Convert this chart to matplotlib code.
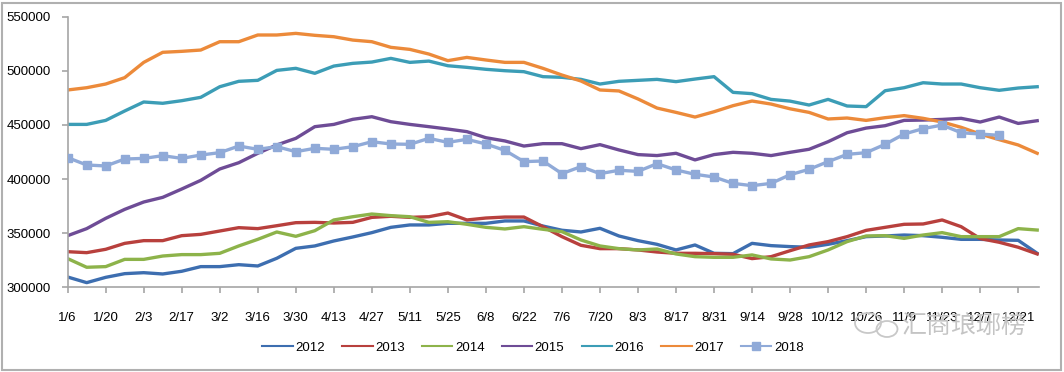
import matplotlib
matplotlib.use('Agg')
import matplotlib.pyplot as plt
from matplotlib.lines import Line2D
from matplotlib.patches import Ellipse, Rectangle

plt.rcParams['font.family'] = ['Liberation Sans', 'DejaVu Sans']

# weekly values, week 0 = 1/6 ... week 51 = 12/28
y2012 = [309500, 304300, 309200, 312600, 313500, 312300, 314800, 319100, 319100, 320900, 319700, 326800, 336000,
         338200, 342800, 346500, 350500, 355400, 357600, 357600, 359100, 359100, 359100, 361300, 361300, 356600,
         352700, 351100, 354500, 347400, 343100, 339700, 334500, 339100, 331400, 331100, 340600, 338500, 337600,
         337000, 339700, 343100, 346800, 347400, 348300, 347700, 346200, 344300, 344300, 343700, 343400, 331400]
y2013 = [332900, 332000, 335100, 340600, 343100, 343100, 347700, 348900, 352000, 355100, 354200, 356900, 359700,
         360000, 359400, 360000, 364600, 365600, 364600, 365200, 368600, 362200, 364000, 364900, 364900, 356000,
         346800, 338800, 335700, 335700, 334500, 332600, 331400, 331400, 331100, 330500, 326500, 328300, 333800,
         339100, 342200, 346800, 352600, 355400, 358200, 358500, 362200, 356000, 345000, 341600, 337000, 330800]
y2014 = [326500, 318500, 319100, 325800, 325800, 328900, 330200, 330200, 331400, 338200, 344300, 351100, 347100,
         352300, 362200, 365200, 367700, 366200, 365200, 360000, 360600, 358200, 355400, 353900, 356000, 353600,
         351400, 343700, 338200, 335700, 334500, 335400, 330800, 328300, 327700, 327700, 329900, 326200, 325200,
         328300, 334500, 342200, 347400, 347700, 345200, 348300, 350500, 346800, 346800, 346800, 354200, 352900]
y2015 = [347700, 354200, 363700, 372000, 378800, 383100, 390800, 398800, 409300, 415100, 423800, 431500, 437600,
         448400, 450500, 455200, 457600, 453000, 450500, 448400, 446200, 443800, 438200, 435200, 430500, 432700,
         432700, 428100, 431800, 426900, 422600, 421700, 423800, 417700, 422600, 424700, 423800, 421700, 424700,
         427500, 434500, 442800, 447100, 449300, 454200, 454500, 455100, 456100, 452700, 457300, 451400, 453900]
y2016 = [450500, 450500, 454200, 462900, 471200, 470000, 472400, 475500, 485300, 490300, 491200, 500400, 502300,
         497700, 504400, 506900, 508100, 511500, 507800, 509000, 504700, 503200, 501400, 500100, 499200, 494600,
         494000, 492100, 487800, 490300, 491200, 492100, 490000, 492400, 494600, 480100, 478900, 473600, 472000,
         468400, 473600, 467500, 466900, 481600, 484400, 489000, 487800, 487800, 484400, 482000, 484100, 485300]
y2017 = [482300, 484400, 487800, 493700, 507800, 517100, 518000, 519200, 526900, 526900, 533100, 533100, 534600,
         532800, 531500, 528400, 526900, 521700, 519800, 515500, 509400, 512400, 510000, 507800, 507800, 502300,
         496100, 490600, 482300, 481400, 474000, 465600, 461600, 457300, 462200, 467800, 472100, 469300, 464900,
         461600, 455500, 456400, 454200, 456700, 458600, 456100, 452700, 447800, 441600, 436400, 431500, 423800]
y2018 = [419800, 413000, 412100, 418500, 419100, 421600, 419100, 422200, 424400, 430500, 427500, 429900, 425300,
         428400, 427500, 429900, 434500, 432400, 432100, 437600, 433900, 436700, 432400, 426500, 416100, 416700,
         405000, 411500, 405000, 408100, 407100, 414200, 408400, 404400, 401900, 396000, 393900, 396000, 404000,
         409000, 416100, 422800, 424400, 432100, 441600, 446600, 449900, 442800, 441600, 440400]

tick_labels = ['1/6', '1/20', '2/3', '2/17', '3/2', '3/16', '3/30', '4/13', '4/27', '5/11', '5/25', '6/8', '6/22',
               '7/6', '7/20', '8/3', '8/17', '8/31', '9/14', '9/28', '10/12', '10/26', '11/9', '11/23', '12/7', '12/21']

years = ['2012', '2013', '2014', '2015', '2016', '2017', '2018']
series = [y2012, y2013, y2014, y2015, y2016, y2017, y2018]
colors = ['#3d6eb0', '#b8403d', '#8db34a', '#6e4c96', '#3c9db6', '#ec8a3a', '#90aad8']

fig = plt.figure(figsize=(10.64, 3.72), dpi=100)
ax = fig.add_axes([0.0636, 0.2277, 0.913, 0.7274])

# draw order like excel: first series at the bottom
for name, vals, c in zip(years, series, colors):
    if name == '2018':
        ax.plot(range(len(vals)), vals, color=c, lw=2.4, marker='s', markersize=6, zorder=3)
    else:
        ax.plot(range(len(vals)), vals, color=c, lw=2.4, zorder=2)

ax.set_xlim(0, 51.1)
ax.set_ylim(300000, 550000)
ax.set_yticks(range(300000, 550001, 50000))
ax.set_yticklabels([str(v) for v in range(300000, 550001, 50000)])
ax.set_xticks(range(0, 52, 2))
ax.set_xticklabels(tick_labels)

for s in ['top', 'right']:
    ax.spines[s].set_visible(False)
for s in ['left', 'bottom']:
    ax.spines[s].set_color('#a6a6a6')
    ax.spines[s].set_linewidth(1.2)
ax.tick_params(axis='both', colors='#a6a6a6', labelcolor='black', labelsize=9.5, length=4, width=1.2)
ax.tick_params(axis='y', pad=8)
ax.tick_params(axis='x', pad=14)

handles = []
for name, c in zip(years, colors):
    if name == '2018':
        handles.append(Line2D([], [], color=c, lw=1.5, marker='s', markersize=6))
    else:
        handles.append(Line2D([], [], color=c, lw=1.5))
fig.legend(handles, years, loc='center', bbox_to_anchor=(0.501, 0.066), ncol=7, frameon=False,
           fontsize=9.5, handlelength=2.3, handletextpad=0.2, columnspacing=1.3)

# watermark
W, H = 1064.0, 372.0
fig.add_artist(Ellipse((868 / W, 1 - 323 / H), 26 / W, 20 / H, fill=False, ec='#c8c8c8', lw=1.3, zorder=5))
fig.add_artist(Ellipse((887 / W, 1 - 329 / H), 21 / W, 16 / H, fill=False, ec='#c8c8c8', lw=1.3, zorder=5))
fig.text(902 / W, 1 - 326 / H, '汇商琅琊榜', fontsize=18, color='#c4c4c4', va='center', ha='left',
         family=['Noto Sans CJK SC', 'DejaVu Sans'], fontweight='light', zorder=5)

# outer frame
fig.add_artist(Rectangle((2 / W, 2 / H), 1059 / W, 367 / H, fill=False, ec='#b0b0b0', lw=1.5))

fig.savefig('out.png', dpi=100)
